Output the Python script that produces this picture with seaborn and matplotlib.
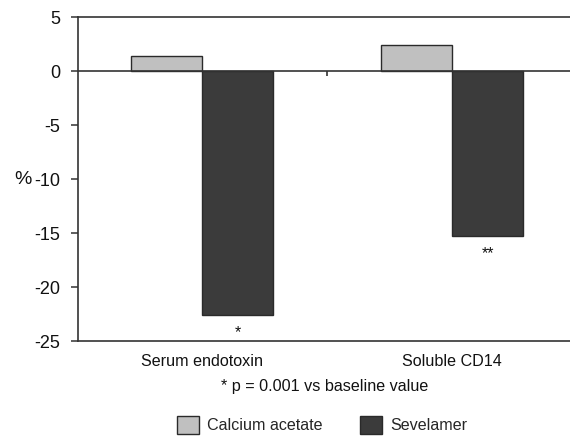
import pandas as pd
import numpy as np
import seaborn as sns
import matplotlib.pyplot as plt

# values (% change from baseline)
markers = ['Serum endotoxin', 'Soluble CD14']
groups = ['Calcium acetate', 'Sevelamer']
calcium = [1.4, 2.4]
sevelamer = [-22.6, -15.3]
stars = ['*', '**']
yticks = [5, 0, -5, -10, -15, -20, -25]

df = pd.DataFrame({
    'marker': markers * 2,
    'group': [groups[0]] * 2 + [groups[1]] * 2,
    'change': calcium + sevelamer,
})

sns.set_theme(style='white')
plt.rcParams['font.family'] = ['Liberation Sans', 'DejaVu Sans']
line_col = '#333333'

fig = plt.figure(figsize=(5.7, 4.38), dpi=100)
ax = fig.add_axes([78 / 570, 1 - 341 / 438, 1 - 78 / 570, (341 - 17) / 438])

sns.barplot(data=df, x='marker', y='change', hue='group', order=markers, hue_order=groups,
            palette=['#c0c0c0', '#3b3b3b'], width=0.57, edgecolor='#2a2a2a', linewidth=1.0,
            ax=ax)

ax.set_ylim(-25, 5)
ax.set_xlim(-0.496, 1.472)
ax.set_yticks(yticks)
ax.set_yticklabels([str(t) for t in yticks])
ax.set_xlabel('')
ax.set_ylabel('')
# the "%" sits level with the -10 tick
ax.text(-0.112, 0.5, '%', transform=ax.transAxes, ha='center', va='center', fontsize=14,
        color='#111111')

for s in ['top', 'left', 'bottom']:
    ax.spines[s].set_color(line_col)
    ax.spines[s].set_linewidth(1.2)
ax.spines['right'].set_visible(False)

ax.tick_params(axis='y', length=5, width=1.1, color=line_col, labelsize=13, pad=8,
               left=True, labelcolor='#111111')
ax.tick_params(axis='x', length=0, labelsize=11.6, pad=9, labelcolor='#111111')

# zero line with the category divider tick
ax.axhline(0, color=line_col, lw=1.2, zorder=3)
ax.vlines(0.5, -0.45, 0, color=line_col, lw=1.2)

# significance marks below the sevelamer bars
for i, v in enumerate(sevelamer):
    ax.text(i + 0.57 / 4, v - 0.9, stars[i], ha='center', va='top', fontsize=11.5, color='#111111')

ax.legend_.remove()
handles, labels = ax.get_legend_handles_labels()
fig.legend(handles, labels, loc='center', bbox_to_anchor=(0.565, 1 - 425 / 438), ncol=2,
           frameon=False, fontsize=11.6, handlelength=1.4, handleheight=1.4,
           handletextpad=0.5, columnspacing=2.3)

fig.text(325 / 570, 1 - 387 / 438, '* p = 0.001 vs baseline value', ha='center', va='center',
         fontsize=11.6, color='#111111')

fig.savefig('out.png', dpi=100)
